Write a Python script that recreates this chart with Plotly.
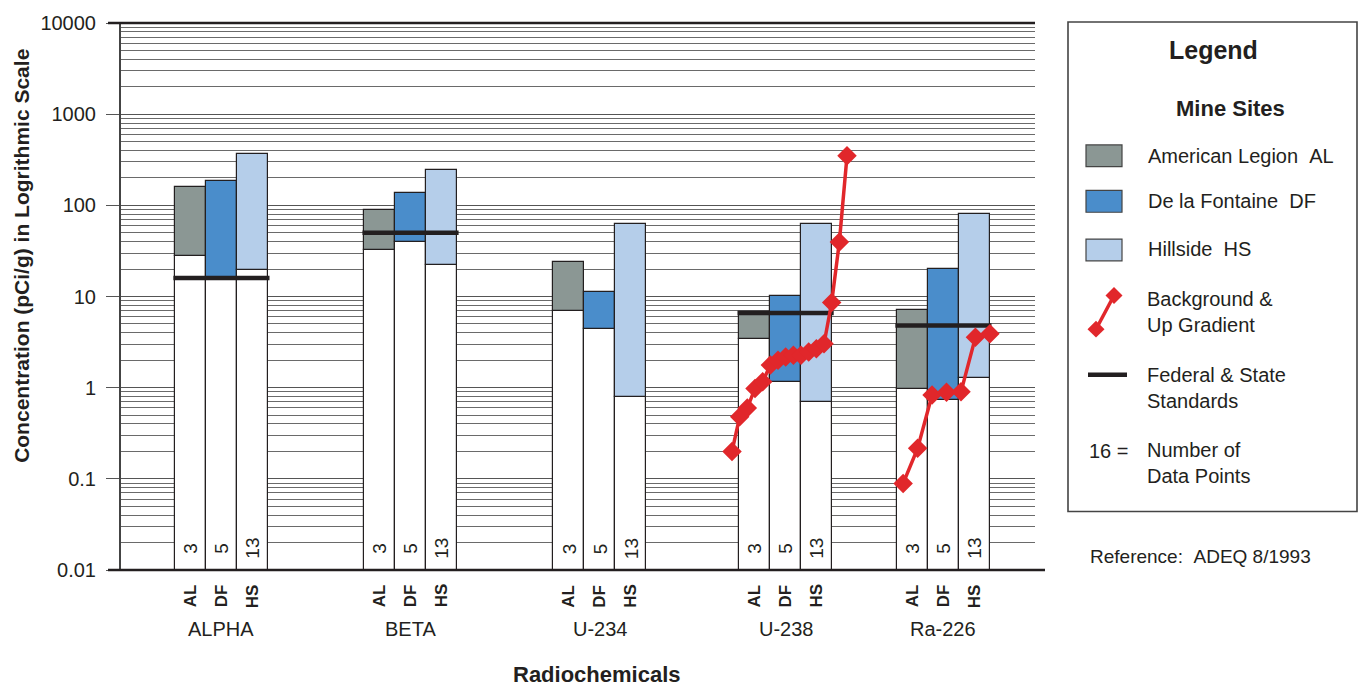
import numpy as np
import plotly.graph_objects as go

# ---------------- data ----------------
groups = ["ALPHA", "BETA", "U-234", "U-238", "Ra-226"]
sites = ["AL", "DF", "HS"]
site_names = ["American Legion\u00a0\u00a0AL", "De la Fontaine\u00a0\u00a0DF", "Hillside\u00a0\u00a0HS"]

al_low = [28, 32, 6.9, 3.4, 0.97]
al_high = [160, 88, 24, 6.8, 7.1]
df_low = [15.5, 40, 4.4, 1.15, 0.73]
df_high = [185, 138, 11.2, 10.2, 19.8]
hs_low = [19.5, 22, 0.8, 0.69, 1.28]
hs_high = [367, 246, 62, 62, 80]

standards = [16, 50, None, 6.6, 4.8]

n_al = [3, 3, 3, 3, 3]
n_df = [5, 5, 5, 5, 5]
n_hs = [13, 13, 13, 13, 13]

bg_u238 = [0.20, 0.48, 0.60, 0.98, 1.16, 1.77, 2.0, 2.17, 2.27, 2.27, 2.46, 2.67, 3.03, 8.6, 39.6, 349]
bg_ra226 = [0.089, 0.216, 0.83, 0.89, 0.90, 3.58, 3.9]

y_tick_vals = [0.01, 0.1, 1, 10, 100, 1000, 10000]
y_tick_text = ["0.01", "0.1", "1", "10", "100", "1000", "10000"]

# ---------------- layout constants ----------------
W, H = 1363, 688
L, R, T, B = 121, 1035, 18, 570          # plot area in pixels
UNIT = 31.0                              # one bar width in px
X_RANGE = [0, (R - L) / UNIT]
group_centers = [3.24, 9.34, 15.45, 21.44, 26.53]
site_offsets = [-1, 0, 1]
bg_span = {"U-238": (-1.73, 1.98), "Ra-226": (-1.30, 1.50)}

C_AL, C_DF, C_HS = "#8b9794", "#4a8dcb", "#b5ceea"
C_RED = "#e1272b"
C_INK = "#231f20"
FONT = "Liberation Sans, Arial, Helvetica, sans-serif"


def px(x):
    return (x - L) / (R - L)


def py(y):
    return (B - y) / (B - T)


fig = go.Figure()

lows = [al_low, df_low, hs_low]
highs = [al_high, df_high, hs_high]
cols = [C_AL, C_DF, C_HS]
counts = [n_al, n_df, n_hs]

for i, s in enumerate(sites):
    xs = [c + site_offsets[i] for c in group_centers]
    fig.add_trace(go.Bar(
        x=xs, y=lows[i], width=1, showlegend=False, hoverinfo="skip",
        marker=dict(color="white", line=dict(color=C_INK, width=1.2)),
    ))
    fig.add_trace(go.Bar(
        x=xs, y=[h - l for h, l in zip(highs[i], lows[i])], base=lows[i], width=1,
        name=s, showlegend=False,
        marker=dict(color=cols[i], line=dict(color=C_INK, width=1.2)),
    ))

# standards
for c, v in zip(group_centers, standards):
    if v is None:
        continue
    fig.add_trace(go.Scatter(
        x=[c - 1.55, c + 1.55], y=[v, v], mode="lines", showlegend=False,
        line=dict(color=C_INK, width=4.5), hoverinfo="skip",
    ))

# background & up gradient
for g, vals in [("U-238", bg_u238), ("Ra-226", bg_ra226)]:
    c = group_centers[groups.index(g)]
    a, b = bg_span[g]
    xs = list(np.linspace(c + a, c + b, len(vals)))
    fig.add_trace(go.Scatter(
        x=xs, y=vals, mode="lines+markers", showlegend=False, cliponaxis=False,
        line=dict(color=C_RED, width=3.5),
        marker=dict(symbol="diamond", size=15, color=C_RED),
    ))

# minor grid values (every digit in each decade)
minor_vals = [d * 10.0 ** e for e in range(-2, 4) for d in range(2, 10)]

fig.update_layout(
    width=W, height=H,
    margin=dict(l=L, r=W - R, t=T, b=H - B, pad=0),
    paper_bgcolor="white", plot_bgcolor="white",
    barmode="overlay", bargap=0,
    font=dict(family=FONT, color=C_INK, size=19),
    xaxis=dict(range=X_RANGE, showgrid=False, zeroline=False, showticklabels=False,
               ticks="", showline=False, fixedrange=True),
    yaxis=dict(type="log", range=[-2, 4], tickmode="array", tickvals=y_tick_vals,
               ticktext=y_tick_text, ticks="outside", ticklen=13, tickwidth=1.3,
               tickcolor="#555", showgrid=True, gridcolor="#555", gridwidth=1.2,
               showline=True, linecolor="#444", linewidth=2, zeroline=False,
               tickfont=dict(size=20, family=FONT, color=C_INK),
               minor=dict(tickmode="array", tickvals=minor_vals, showgrid=True,
                          gridcolor="#6a6a6a", gridwidth=1, ticks=""),
               ticklabelstandoff=6),
)

shapes = []
# top & bottom heavy lines
shapes.append(dict(type="line", xref="paper", yref="paper", x0=px(108), x1=px(R), y0=1, y1=1,
                   line=dict(color=C_INK, width=2.5)))
shapes.append(dict(type="line", xref="paper", yref="paper", x0=px(108), x1=px(1045), y0=0, y1=0,
                   line=dict(color=C_INK, width=2.5)))
# legend frame
shapes.append(dict(type="rect", xref="paper", yref="paper", x0=px(1068), x1=px(1357),
                   y0=py(511), y1=py(17), line=dict(color="#444", width=1.6)))
# legend swatches
for (y0, y1), col in zip([(141, 163), (187, 209), (236, 258)], cols):
    shapes.append(dict(type="rect", xref="paper", yref="paper", x0=px(1086), x1=px(1122),
                       y0=py(y1), y1=py(y0), fillcolor=col, line=dict(color="#444", width=1.2)))
# red symbol
shapes.append(dict(type="line", xref="paper", yref="paper", x0=px(1096), y0=py(327),
                   x1=px(1114), y1=py(293), line=dict(color=C_RED, width=3.5)))


def diamond(cx, cy, r):
    return (f"M {px(cx - r)},{py(cy)} L {px(cx)},{py(cy - r)} L {px(cx + r)},{py(cy)} "
            f"L {px(cx)},{py(cy + r)} Z")


for cx, cy in [(1096, 327), (1114, 293)]:
    shapes.append(dict(type="path", xref="paper", yref="paper", path=diamond(cx, cy, 8.5),
                       fillcolor=C_RED, line=dict(color=C_RED, width=0)))
# black standards line
shapes.append(dict(type="line", xref="paper", yref="paper", x0=px(1088), x1=px(1127),
                   y0=py(373), y1=py(373), line=dict(color=C_INK, width=4.5)))
fig.update_layout(shapes=shapes)

ann = []


def text(xp, yp, s, size=19, bold=False, xanchor="center", angle=0, xref="paper"):
    ann.append(dict(x=xp, y=yp, xref=xref, yref="paper", text=f"<b>{s}</b>" if bold else s,
                    showarrow=False, xanchor=xanchor, yanchor="middle", textangle=angle,
                    align="left" if xanchor == "left" else "center",
                    font=dict(size=size, family=FONT, color=C_INK)))


# labels under bars and counts inside bars
for gi, c in enumerate(group_centers):
    for si, s in enumerate(sites):
        x = c + site_offsets[si]
        text(x, py(596), s, size=17, bold=True, angle=-90, xref="x")
        text(x, py(548), str(counts[si][gi]), size=19, angle=-90, xref="x")
    text(c, py(630), groups[gi], size=20, xref="x")

text(px(597), py(675), "Radiochemicals", size=22, bold=True)
text(px(22), py(253), "Concentration (pCi/g) in Logrithmic Scale", size=21, bold=True, angle=-90)

# legend texts
text(px(1213), py(45), "Legend", size=25, bold=True)
text(px(1230), py(104), "Mine Sites", size=22, bold=True)
for name, yy in zip(site_names, [152, 198, 246]):
    text(px(1146), py(yy), name, size=20, xanchor="left")
text(px(1145), py(310), "Background &amp;<br>Up Gradient", size=20, xanchor="left")
text(px(1145), py(386), "Federal &amp; State<br>Standards", size=20, xanchor="left")
text(px(1087), py(450), "16 =", size=20, xanchor="left")
text(px(1145), py(462), "Number of<br>Data Points", size=20, xanchor="left")
text(px(1088), py(556), "Reference:\u00a0\u00a0ADEQ 8/1993", size=19, xanchor="left")

fig.update_layout(annotations=ann)

fig.write_html("out.html", config={"displayModeBar": False},
               post_script="document.body.style.margin='0';document.body.style.overflow='hidden';")
